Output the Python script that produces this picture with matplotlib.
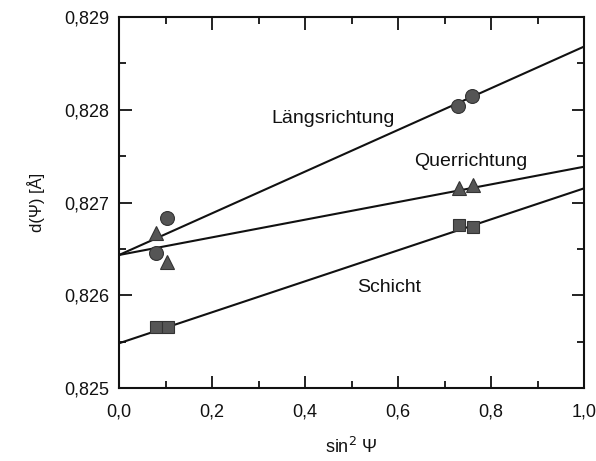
import matplotlib
matplotlib.use("Agg")
import matplotlib.pyplot as plt
from matplotlib.ticker import MultipleLocator, FuncFormatter

plt.rcParams['font.family'] = ['Liberation Sans', 'DejaVu Sans']

# Data
laengs_x = [0.080, 0.103, 0.729, 0.759]
laengs_y = [0.826455, 0.826833, 0.828044, 0.828148]
quer_x = [0.080, 0.103, 0.732, 0.762]
quer_y = [0.826674, 0.826362, 0.827153, 0.827189]
schicht_x = [0.080, 0.105, 0.732, 0.762]
schicht_y = [0.825661, 0.825661, 0.826757, 0.826733]

fit_x = [0.0, 1.0]
laengs_fit = [0.826434, 0.828682]
quer_fit = [0.826434, 0.827386]
schicht_fit = [0.825482, 0.827153]

labels = ["Längsrichtung", "Querrichtung", "Schicht"]
label_x = [0.327, 0.635, 0.511]
label_y = [0.827857, 0.827394, 0.826038]

fig = plt.figure(figsize=(5.96, 4.61), dpi=100)
ax = fig.add_axes([0.1997, 0.1584, 0.7803, 0.8046])

lc = '#111111'
mc = '#555555'
ec = '#333333'
for fy in (laengs_fit, quer_fit, schicht_fit):
    ax.plot(fit_x, fy, color=lc, lw=1.5, zorder=2)

ax.plot(laengs_x, laengs_y, 'o', ms=10, color=mc, mec=ec, mew=0.8, zorder=3)
ax.plot(quer_x, quer_y, '^', ms=10.5, color=mc, mec=ec, mew=0.8, zorder=3)
ax.plot(schicht_x, schicht_y, 's', ms=8, color=mc, mec=ec, mew=0.8, zorder=3)

for t, x, y in zip(labels, label_x, label_y):
    ax.text(x, y, t, fontsize=14, color='#111111', ha='left', va='baseline')

ax.set_xlim(0, 1)
ax.set_ylim(0.825, 0.829)
ax.xaxis.set_major_locator(MultipleLocator(0.2))
ax.xaxis.set_minor_locator(MultipleLocator(0.1))
ax.yaxis.set_major_locator(MultipleLocator(0.001))
ax.yaxis.set_minor_locator(MultipleLocator(0.0005))
ax.xaxis.set_major_formatter(FuncFormatter(lambda v, p: f"{v:.1f}".replace('.', ',')))
ax.yaxis.set_major_formatter(FuncFormatter(lambda v, p: f"{v:.3f}".replace('.', ',')))

ax.tick_params(which='both', direction='in', top=True, right=True, width=1.3, colors='#111111', labelsize=13)
ax.tick_params(which='major', length=9)
ax.tick_params(which='minor', length=5)
ax.tick_params(axis='x', which='major', pad=11)
ax.tick_params(axis='y', which='major', pad=7)
for s in ax.spines.values():
    s.set_linewidth(1.5)
    s.set_color('#111111')

ax.set_xlabel("sin$^2$ Ψ", fontsize=13, labelpad=12, color='#111111')
ax.set_ylabel("d(Ψ) [Å]", fontsize=12, labelpad=14, color='#111111')

fig.savefig("out.png", dpi=100)
